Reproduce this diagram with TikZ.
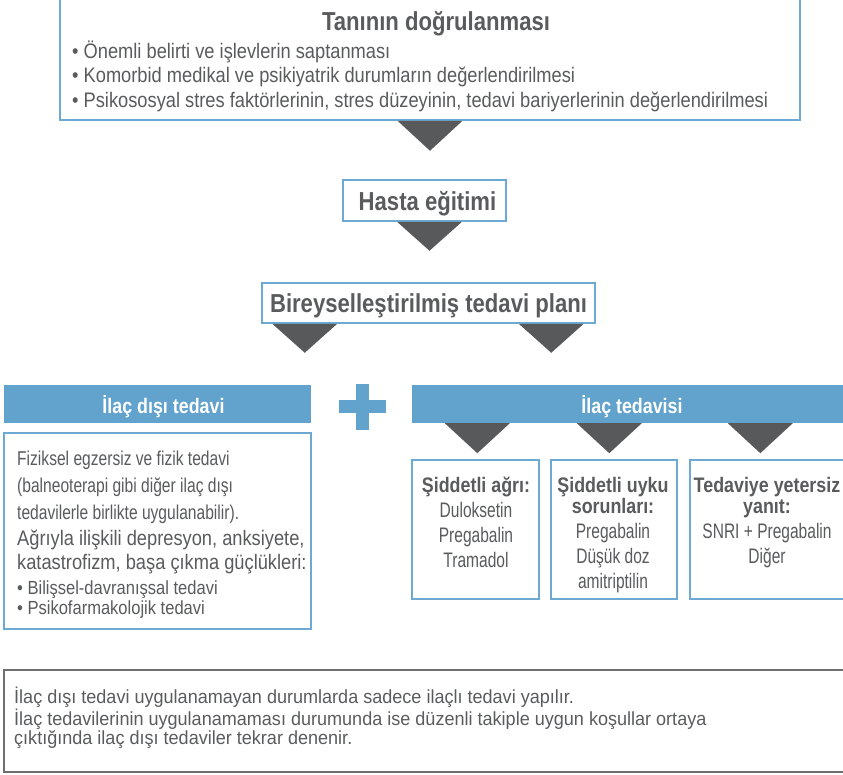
\documentclass[tikz,border=0pt]{standalone}
\usepackage{fontspec}
\setmainfont{Liberation Sans}[UprightFeatures={FakeStretch=0.74}, BoldFeatures={FakeStretch=0.85}]
\newfontfamily\listface{Liberation Sans}[FakeStretch=0.87]
\newfontfamily\physface{Liberation Sans}[FakeStretch=0.78]
\newfontfamily\noteface{Liberation Sans}[FakeStretch=0.95]
\usepackage{xcolor}
\usepackage{tikz}
\usetikzlibrary{positioning, calc}

\definecolor{frameblue}{HTML}{6CA9D3}
\definecolor{headblue}{HTML}{62A3CD}
\definecolor{arrowgray}{HTML}{58595B}
\definecolor{textgray}{HTML}{5A5B5D}
\definecolor{notegray}{HTML}{6D6E70}

\tikzset{
  bluebox/.style={draw=frameblue, line width=1.5pt, fill=white, inner sep=0pt},
  heading/.style={text=textgray, font=\bfseries\fontsize{26}{30}\selectfont, text depth=0pt},
  headbar/.style={fill=headblue, inner sep=0pt, text=white, text depth=0pt, font=\bfseries\fontsize{21}{25}\selectfont},
  tri/.style={fill=arrowgray},
  bodytext/.style={text=textgray, inner sep=0pt, font=\fontsize{21}{25}\selectfont}
}

\begin{document}
\begin{tikzpicture}[x=1pt, y=-1pt]
\useasboundingbox (0,0) rectangle (843,774);
\clip (0,0) rectangle (843,774);

% Diagnosis (box runs past the top edge)
\node[bluebox, minimum width=740, minimum height=132] (diag) at (430,54) {};
\node[heading, anchor=base] (diagtitle) at (436,30) {Tanının doğrulanması};
% multi-line nodes: base = last line
\node[bodytext, anchor=base west, align=left, font=\listface\fontsize{21}{24.5}\selectfont] (diaglist) at (72,107) {• Önemli belirti ve işlevlerin saptanması\\
  • Komorbid medikal ve psikiyatrik durumların değerlendirilmesi\\
  • Psikososyal stres faktörlerinin, stres düzeyinin, tedavi bariyerlerinin değerlendirilmesi};
\fill[tri] ($(diag.south)+(-32.5,0)$) -- ++(65,0) -- ++(-32.5,30) -- cycle;

% Patient education
\node[bluebox, heading, minimum width=163, minimum height=41] (edu) at (424.5,200.5) {\hspace{6pt}Hasta eğitimi};
\fill[tri] ($(edu.south)+(-27.5,0)$) -- ++(65,0) -- ++(-32.5,29) -- cycle;

% Individual plan
\node[bluebox, heading, minimum width=333, minimum height=40] (plan) at (428.5,303) {Bireyselleştirilmiş tedavi planı};
\fill[tri] ($(plan.south west)+(11,0)$) -- ++(65,0) -- ++(-32.5,29) -- cycle;
\fill[tri] ($(plan.south east)+(-77,0)$) -- ++(65,0) -- ++(-32.5,29) -- cycle;

% Non-drug branch
\node[headbar, minimum width=307, minimum height=38] (nonhead) at (157.5,404) {\hspace{12pt}İlaç dışı tedavi};
\node[bluebox, minimum width=307, minimum height=196] (nonbox) at (157.5,531) {};
\node[bodytext, anchor=base west, align=left, font=\physface\fontsize{20}{26.7}\selectfont] (physio) at (17,519) {Fiziksel egzersiz ve fizik tedavi\\
  (balneoterapi gibi diğer ilaç dışı\\
  tedavilerle birlikte uygulanabilir).};
\node[bodytext, anchor=base west, align=left, font=\listface\fontsize{21}{23.5}\selectfont] (psych) at (17,569) {Ağrıyla ilişkili depresyon, anksiyete,\\
  katastrofizm, başa çıkma güçlükleri:};
\node[bodytext, anchor=base west, align=left, font=\listface\fontsize{19}{20}\selectfont] (cbt) at (17,614) {• Bilişsel-davranışsal tedavi\\
  • Psikofarmakolojik tedavi};

% Plus sign
\fill[headblue] (339,400) rectangle (386,413);
\fill[headblue] (356,384) rectangle (369,430);

% Drug branch
\node[headbar, minimum width=440, minimum height=38] (drughead) at (632,404) {İlaç tedavisi};
\fill[tri] ($(drughead.south west)+(33,0)$) -- ++(65,0) -- ++(-32.5,30) -- cycle;
\fill[tri] ($(drughead.south west)+(165,0)$) -- ++(65,0) -- ++(-32.5,30) -- cycle;
\fill[tri] ($(drughead.south west)+(316,0)$) -- ++(65,0) -- ++(-32.5,30) -- cycle;

\node[bluebox, minimum width=127, minimum height=139] (pain) at (475.5,529.5) {};
\node[bluebox, minimum width=126, minimum height=139] (sleep) at (614,529.5) {};
\node[bluebox, minimum width=170, minimum height=139] (resp) at (775,529.5) {};

\node[bodytext, anchor=base, align=center] (paintext) at (476,567) {\textbf{Şiddetli ağrı:}\\
  Duloksetin\\ Pregabalin\\ Tramadol};
\node[bodytext, anchor=base, align=center] (sleeptext) at (613,588) {\textbf{Şiddetli uyku}\\[-4pt]
  \textbf{sorunları:}\\ Pregabalin\\ Düşük doz\\ amitriptilin};
\node[bodytext, anchor=base, align=center] (resptext) at (767,563) {\textbf{Tedaviye yetersiz}\\[-4pt]
  \textbf{yanıt:}\\ SNRI + Pregabalin\\ Diğer};

% Note at the bottom
\node[draw=notegray, line width=1.5pt, inner sep=0pt, minimum width=860, minimum height=102] (note) at (434,721) {};
\node[bodytext, anchor=base west, align=left, font=\noteface\fontsize{19}{19}\selectfont] (notetext) at (14,744) {İlaç dışı tedavi uygulanamayan durumlarda sadece ilaçlı tedavi yapılır.\\
  İlaç tedavilerinin uygulanamaması durumunda ise düzenli takiple uygun koşullar ortaya\\
  çıktığında ilaç dışı tedaviler tekrar denenir.};
\end{tikzpicture}
\end{document}
